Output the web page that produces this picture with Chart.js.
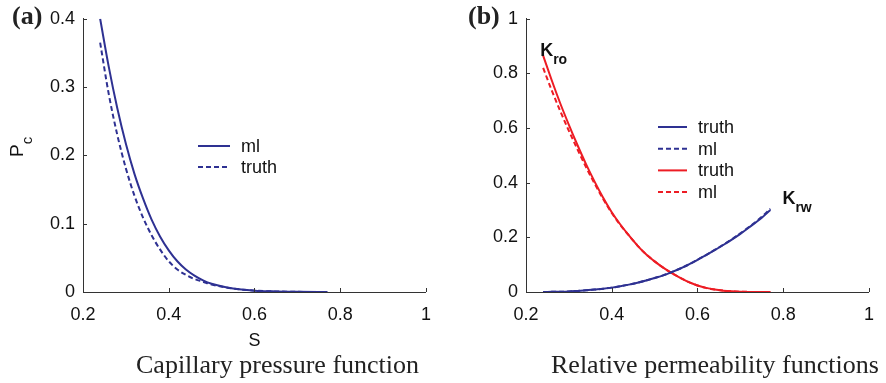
<!DOCTYPE html>
<html>
<head>
<meta charset="utf-8">
<script src="https://cdn.jsdelivr.net/npm/chart.js@4"></script>
<style>
  body { margin: 0; background: #fff; width: 886px; height: 383px; position: relative; overflow: hidden; }
  .pane { position: absolute; top: 0; width: 443px; height: 352px; }
  .tag { position: absolute; top: 1px; font: bold 26px "Liberation Serif", serif; color: #222; }
  .caption { position: absolute; top: 352px; font: 26px "Liberation Serif", serif; line-height: 26px; color: #222; white-space: nowrap; }
</style>
</head>
<body>
<div class="pane" style="left:0"><canvas id="pc"></canvas></div>
<div class="pane" style="left:443px"><canvas id="kr"></canvas></div>
<div class="tag" style="left:12px">(a)</div>
<div class="tag" style="left:468px">(b)</div>
<div class="caption" style="left:136px">Capillary pressure function</div>
<div class="caption" style="left:551px">Relative permeability functions</div>
<script>
// saturation samples
const sPc = [0.24, 0.26, 0.28, 0.30, 0.32, 0.34, 0.36, 0.38, 0.40, 0.42, 0.44, 0.46, 0.48, 0.50, 0.55, 0.60, 0.65, 0.70, 0.77];
const pcMl    = [0.400, 0.330, 0.269, 0.217, 0.173, 0.137, 0.106, 0.081, 0.061, 0.045, 0.033, 0.024, 0.017, 0.012, 0.005, 0.002, 0.0008, 0.0002, 0];
const pcTruth = [0.365, 0.290, 0.230, 0.181, 0.141, 0.109, 0.083, 0.062, 0.045, 0.033, 0.025, 0.019, 0.015, 0.011, 0.005, 0.002, 0.0008, 0.0002, 0];

const sKr = [0.24, 0.26, 0.28, 0.30, 0.32, 0.34, 0.36, 0.38, 0.40, 0.42, 0.44, 0.46, 0.48, 0.50, 0.52, 0.54, 0.56, 0.58, 0.60, 0.62, 0.64, 0.66, 0.68, 0.70, 0.72, 0.75, 0.77];
const kroTruth = [0.865, 0.775, 0.690, 0.612, 0.538, 0.468, 0.404, 0.345, 0.292, 0.247, 0.207, 0.170, 0.138, 0.112, 0.089, 0.069, 0.052, 0.036, 0.024, 0.015, 0.009, 0.005, 0.0025, 0.001, 0.0004, 0.0001, 0];
const kroMl    = [0.820, 0.738, 0.662, 0.590, 0.522, 0.457, 0.397, 0.340, 0.289, 0.245, 0.207, 0.170, 0.138, 0.112, 0.089, 0.069, 0.052, 0.036, 0.024, 0.015, 0.009, 0.005, 0.0025, 0.001, 0.0004, 0.0001, 0];
const krwTruth = [0, 0.0005, 0.001, 0.002, 0.004, 0.006, 0.009, 0.012, 0.016, 0.021, 0.027, 0.034, 0.042, 0.051, 0.061, 0.073, 0.086, 0.101, 0.118, 0.135, 0.153, 0.172, 0.192, 0.213, 0.236, 0.272, 0.300];
const krwMl    = [0, 0.0005, 0.001, 0.002, 0.004, 0.006, 0.009, 0.012, 0.016, 0.021, 0.027, 0.034, 0.042, 0.051, 0.061, 0.073, 0.086, 0.101, 0.118, 0.135, 0.154, 0.173, 0.193, 0.215, 0.238, 0.275, 0.305];

const xTicks = [0.2, 0.4, 0.6, 0.8, 1];

const BLUE = "#2e3192";
const RED = "#ed1c24";
const FONT = "Liberation Sans";

const pts = (xs, ys) => xs.map((x, i) => ({ x, y: ys[i] }));
const fmt = (v) => String(parseFloat(v.toFixed(2)));

// short tick marks pointing into the plot, like matlab
const inwardTicks = {
  id: "inwardTicks",
  afterDraw(chart) {
    const { ctx, chartArea, scales } = chart;
    ctx.save();
    ctx.strokeStyle = "#333";
    ctx.lineWidth = 1;
    ctx.beginPath();
    scales.x.ticks.forEach((t) => {
      const px = Math.round(scales.x.getPixelForValue(t.value)) + 0.5;
      ctx.moveTo(px, chartArea.bottom);
      ctx.lineTo(px, chartArea.bottom - 4);
    });
    scales.y.ticks.forEach((t) => {
      const py = Math.round(scales.y.getPixelForValue(t.value)) + 0.5;
      ctx.moveTo(chartArea.left, py);
      ctx.lineTo(chartArea.left + 4, py);
    });
    ctx.stroke();
    ctx.restore();
  },
};

// legend drawn inside the axes
const innerLegend = {
  id: "innerLegend",
  afterDraw(chart, args, opts) {
    const { ctx } = chart;
    ctx.save();
    ctx.font = "18px " + FONT;
    ctx.textBaseline = "middle";
    chart.data.datasets.forEach((ds, i) => {
      const y = opts.y + i * opts.row;
      ctx.strokeStyle = ds.borderColor;
      ctx.lineWidth = 2;
      ctx.setLineDash(ds.borderDash || []);
      ctx.beginPath();
      ctx.moveTo(opts.x, y);
      ctx.lineTo(opts.x + opts.len, y);
      ctx.stroke();
      ctx.setLineDash([]);
      ctx.fillStyle = "#111";
      ctx.fillText(ds.label, opts.x + opts.len + 11, y + 1);
    });
    ctx.restore();
  },
};

// text with a subscript: K_ro, P_c ...
function subText(ctx, main, sub, x, y, size, bold) {
  const w = bold ? "bold " : "";
  ctx.font = w + size + "px " + FONT;
  ctx.fillText(main, x, y);
  const mw = ctx.measureText(main).width;
  ctx.font = w + Math.round(size * 0.8) + "px " + FONT;
  ctx.fillText(sub, x + mw, y + size * 0.45);
}

const notes = {
  id: "notes",
  afterDraw(chart, args, opts) {
    const { ctx, scales } = chart;
    ctx.save();
    ctx.fillStyle = "#111";
    ctx.textBaseline = "alphabetic";
    (opts.items || []).forEach((n) => {
      const px = scales.x.getPixelForValue(n.x) + n.dx;
      const py = scales.y.getPixelForValue(n.y) + n.dy;
      subText(ctx, n.main, n.sub, px, py, 18, true);
    });
    if (opts.yTitle) {
      ctx.translate(opts.yTitle.x, opts.yTitle.y);
      ctx.rotate(-Math.PI / 2);
      subText(ctx, opts.yTitle.main, opts.yTitle.sub, -9, 0, 19, false);
    }
    ctx.restore();
  },
};

function axes(yMax, xTitle) {
  return {
    x: {
      type: "linear",
      min: 0.2,
      max: 1,
      afterBuildTicks: (s) => { s.ticks = xTicks.map((v) => ({ value: v })); },
      afterFit: (s) => { s.height = 60; },
      grid: { display: false, drawTicks: false },
      border: { display: true, color: "#333", width: 1 },
      ticks: { color: "#111", font: { family: FONT, size: 18 }, padding: 12, maxRotation: 0, callback: fmt },
      title: xTitle
        ? { display: true, text: xTitle, color: "#111", font: { family: FONT, size: 18 }, padding: { top: 0, bottom: 0 } }
        : { display: false },
    },
    y: {
      type: "linear",
      min: 0,
      max: yMax,
      afterFit: (s) => { s.width = 83; },
      grid: { display: false, drawTicks: false },
      border: { display: true, color: "#333", width: 1 },
      ticks: { color: "#111", font: { family: FONT, size: 18 }, padding: 8, stepSize: yMax / 5 > 0.1 ? 0.2 : 0.1, callback: fmt },
    },
  };
}

const common = {
  responsive: true,
  maintainAspectRatio: false,
  animation: false,
  layout: { padding: { top: 16, right: 10, left: 0, bottom: 0 } },
  elements: { point: { radius: 0 }, line: { cubicInterpolationMode: "monotone", borderWidth: 2 } },
};

new Chart(document.getElementById("pc"), {
  type: "scatter",
  data: {
    datasets: [
      { label: "ml", data: pts(sPc, pcMl), showLine: true, borderColor: BLUE, borderWidth: 2 },
      { label: "truth", data: pts(sPc, pcTruth), showLine: true, borderColor: BLUE, borderWidth: 2, borderDash: [5, 3] },
    ],
  },
  options: {
    ...common,
    scales: axes(0.4, "S"),
    plugins: {
      legend: { display: false },
      tooltip: { enabled: false },
      innerLegend: { x: 198, y: 146, row: 21, len: 32 },
      notes: { yTitle: { x: 23, y: 148, main: "P", sub: "c" } },
    },
  },
  plugins: [inwardTicks, innerLegend, notes],
});

new Chart(document.getElementById("kr"), {
  type: "scatter",
  data: {
    datasets: [
      { label: "truth", data: pts(sKr, krwTruth), showLine: true, borderColor: BLUE, borderWidth: 2 },
      { label: "ml", data: pts(sKr, krwMl), showLine: true, borderColor: BLUE, borderWidth: 2, borderDash: [5, 3] },
      { label: "truth", data: pts(sKr, kroTruth), showLine: true, borderColor: RED, borderWidth: 2 },
      { label: "ml", data: pts(sKr, kroMl), showLine: true, borderColor: RED, borderWidth: 2, borderDash: [5, 3] },
    ],
  },
  options: {
    ...common,
    scales: axes(1, ""),
    plugins: {
      legend: { display: false },
      tooltip: { enabled: false },
      innerLegend: { x: 215, y: 127, row: 21.7, len: 29 },
      notes: {
        items: [
          { main: "K", sub: "ro", x: 0.24, y: kroTruth[0], dx: -3, dy: 0 },
          { main: "K", sub: "rw", x: 0.77, y: krwTruth[krwTruth.length - 1], dx: 12, dy: -6 },
        ],
      },
    },
  },
  plugins: [inwardTicks, innerLegend, notes],
});
</script>
</body>
</html>
